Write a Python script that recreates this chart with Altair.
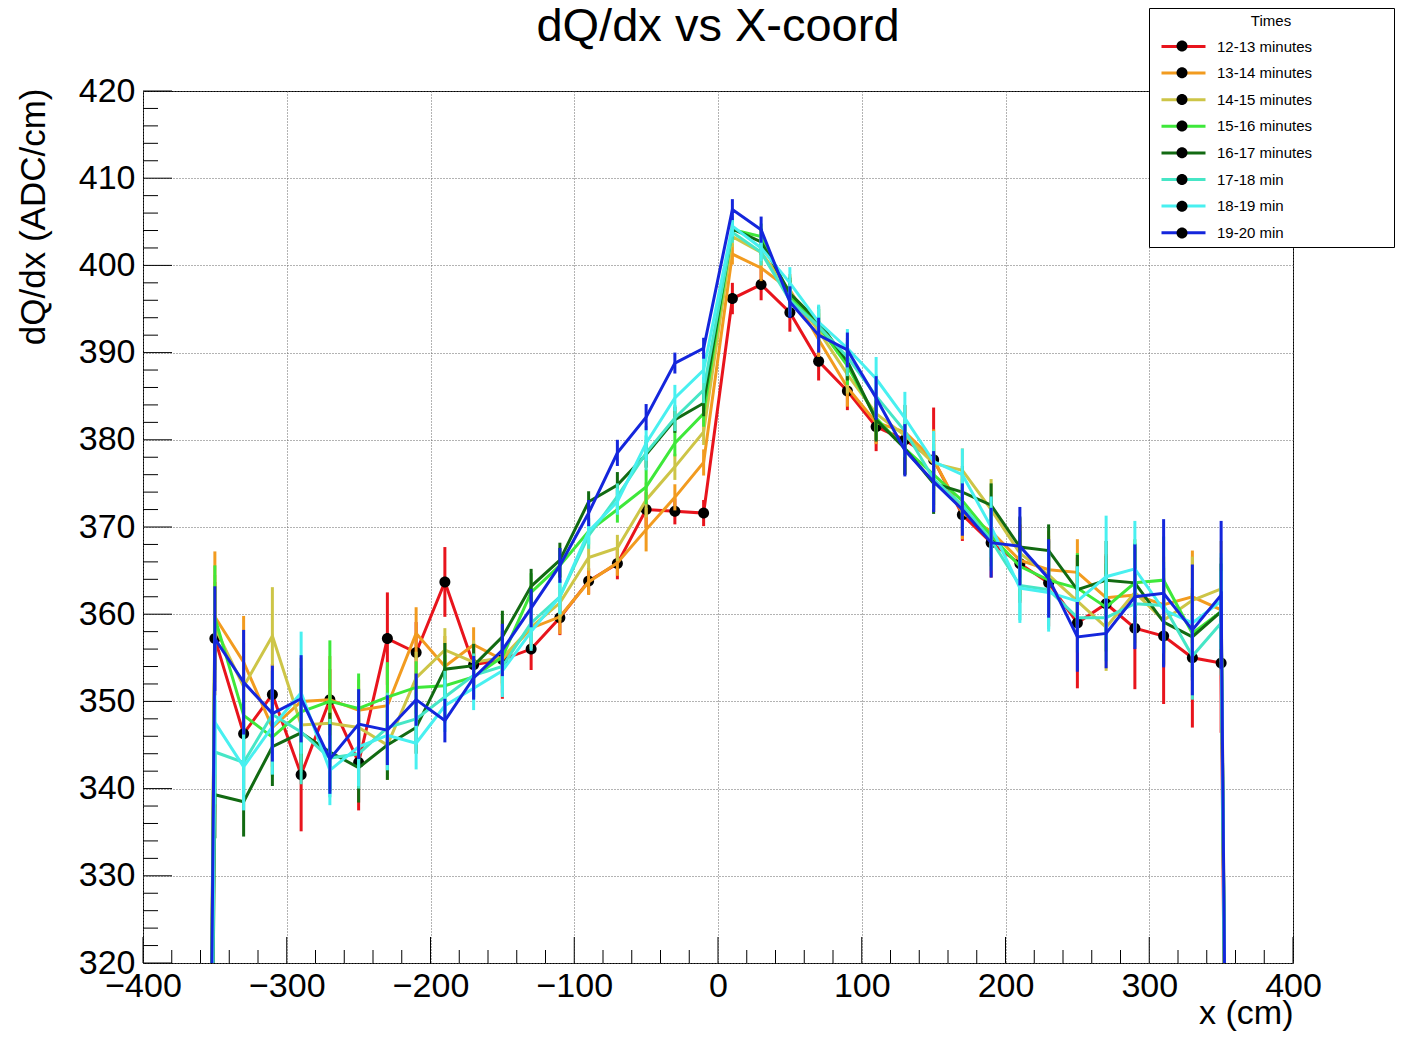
import altair as alt
import pandas as pd

# ---------------- data ----------------
x_pos = [-350, -330, -310, -290, -270, -250, -230, -210, -190, -170, -150, -130,
         -110, -90, -70, -50, -30, -10, 10, 30, 50, 70, 90, 110,
         130, 150, 170, 190, 210, 230, 250, 270, 290, 310, 330, 350]
x_edge = [-370, 370]
y_edge = [0.0, 0.0]

names = ["12-13 minutes", "13-14 minutes", "14-15 minutes", "15-16 minutes",
         "16-17 minutes", "17-18 min", "18-19 min", "19-20 min"]
colors = ["#e8141c", "#f29b1f", "#cdc547", "#3ee83a", "#126a12", "#46e6c6", "#48f0f0", "#1426dc"]

y_1213 = [357.2, 346.3, 350.8, 341.6, 350.2, 343.0, 357.2, 355.6, 363.7, 354.2, 354.8, 356.0,
          359.6, 363.8, 365.8, 372.0, 371.8, 371.6, 396.2, 397.8, 394.6, 389.0, 385.6, 381.5,
          380.0, 377.7, 371.4, 368.2, 365.8, 363.6, 359.0, 361.2, 358.4, 357.5, 355.0, 354.4]
e_1213 = [6.5, 3.0, 3.5, 6.5, 3.5, 5.5, 5.3, 3.5, 4.0, 2.5, 4.5, 2.4,
          2.0, 1.5, 1.8, 2.0, 1.5, 1.5, 1.8, 1.8, 2.2, 2.2, 2.2, 2.8,
          4.0, 6.0, 3.0, 4.0, 4.5, 5.0, 7.5, 5.5, 7.0, 7.8, 8.0, 8.0]

y_1314 = [359.7, 354.5, 347.0, 350.0, 350.2, 349.0, 349.5, 357.8, 354.0, 356.5, 354.8, 358.4,
          359.7, 363.7, 365.9, 369.7, 373.4, 377.4, 401.3, 399.7, 397.2, 391.5, 386.0, 382.0,
          380.9, 377.7, 371.6, 369.5, 366.2, 365.1, 364.8, 361.9, 362.2, 361.1, 362.0, 360.5]
e_1314 = [7.5, 5.3, 4.5, 5.0, 5.0, 3.5, 4.5, 3.0, 3.5, 2.0, 3.0, 2.2,
          2.0, 1.5, 1.5, 2.5, 1.5, 1.5, 1.2, 1.5, 1.8, 2.0, 2.2, 2.5,
          3.0, 3.5, 3.0, 3.5, 4.0, 4.5, 3.8, 5.0, 5.5, 5.5, 5.3, 6.0]

y_1415 = [358.5, 351.7, 357.5, 347.3, 347.5, 347.0, 345.0, 352.7, 355.9, 354.5, 355.0, 358.5,
          361.3, 366.5, 367.6, 373.1, 376.9, 380.9, 403.3, 401.5, 397.0, 392.5, 387.5, 383.0,
          380.5, 377.3, 376.5, 372.0, 367.0, 364.5, 361.5, 358.5, 362.5, 359.3, 361.6, 362.9]
e_1415 = [6.0, 5.0, 5.6, 4.5, 4.0, 4.5, 4.0, 3.0, 2.5, 2.5, 3.0, 2.5,
          2.0, 1.5, 1.5, 2.0, 1.5, 1.5, 1.2, 1.5, 1.8, 2.0, 2.2, 2.5,
          3.0, 3.5, 2.5, 3.5, 4.0, 4.5, 4.0, 5.0, 5.0, 5.0, 5.0, 5.5]

y_1516 = [359.6, 348.4, 345.9, 348.8, 350.0, 349.2, 350.5, 351.6, 351.8, 352.8, 355.1, 362.5,
          365.6, 369.5, 372.0, 374.6, 379.6, 383.0, 404.1, 403.3, 396.5, 393.0, 388.5, 382.5,
          379.0, 376.0, 373.0, 369.0, 365.5, 363.9, 363.0, 360.8, 363.6, 363.9, 357.8, 360.3]
e_1516 = [6.0, 4.0, 4.5, 5.0, 7.0, 4.0, 4.0, 3.0, 3.5, 2.5, 3.0, 2.2,
          2.0, 1.5, 1.5, 2.0, 1.5, 1.5, 1.2, 1.5, 1.8, 2.0, 2.2, 2.5,
          3.0, 3.5, 3.0, 3.5, 4.0, 4.5, 4.0, 5.0, 5.0, 5.0, 5.0, 5.5]

y_1617 = [339.3, 338.5, 344.8, 346.4, 344.2, 342.4, 345.0, 347.0, 353.7, 354.1, 357.4, 363.2,
          366.2, 372.9, 374.8, 378.3, 382.3, 384.2, 404.2, 402.7, 396.8, 393.5, 389.0, 382.3,
          379.0, 375.0, 374.0, 372.5, 367.7, 367.3, 362.8, 363.9, 363.6, 359.1, 357.4, 360.3]
e_1617 = [5.0, 4.0, 4.5, 4.5, 4.5, 4.0, 4.0, 3.0, 3.0, 2.5, 3.0, 2.0,
          2.0, 1.2, 1.5, 1.5, 1.5, 1.5, 1.2, 1.5, 1.8, 1.8, 2.2, 2.5,
          3.0, 3.5, 3.0, 2.5, 3.5, 3.0, 4.0, 4.5, 4.5, 5.0, 5.0, 5.5]

y_1718 = [344.2, 343.0, 348.5, 346.5, 343.5, 344.0, 347.0, 348.0, 350.5, 353.0, 354.0, 359.0,
          362.0, 369.0, 373.5, 378.5, 382.5, 385.7, 403.8, 401.5, 396.0, 393.0, 389.5, 385.0,
          381.0, 375.5, 372.5, 368.5, 363.3, 362.8, 359.6, 359.6, 361.2, 361.0, 355.2, 359.0]
e_1718 = [6.0, 4.5, 5.0, 6.0, 4.5, 4.0, 4.0, 3.0, 3.0, 2.5, 3.0, 2.2,
          2.0, 1.5, 1.5, 2.0, 1.5, 1.5, 1.2, 1.5, 1.8, 2.0, 2.2, 2.5,
          3.0, 3.5, 3.0, 3.5, 4.0, 4.5, 4.0, 5.0, 5.0, 5.0, 5.0, 6.0]

y_1819 = [347.6, 342.5, 347.1, 351.0, 342.1, 344.8, 346.1, 345.2, 349.5, 351.5, 353.5, 358.0,
          362.0, 369.5, 372.9, 379.6, 384.8, 388.0, 404.5, 402.0, 398.0, 393.5, 390.5, 387.0,
          382.5, 377.5, 376.0, 370.0, 363.0, 362.5, 361.5, 364.3, 365.2, 360.5, 359.0, 361.5]
e_1819 = [6.0, 5.0, 5.5, 7.0, 4.0, 4.5, 4.0, 3.0, 3.0, 2.5, 3.0, 2.2,
          2.0, 1.5, 1.5, 2.0, 1.5, 1.5, 1.2, 1.5, 1.8, 2.0, 2.2, 2.5,
          3.0, 3.5, 3.0, 3.5, 4.0, 4.5, 4.0, 7.0, 5.5, 5.0, 5.0, 5.5]

y_1920 = [357.2, 352.2, 348.6, 350.3, 343.4, 347.4, 346.7, 350.2, 347.8, 352.7, 355.9, 360.7,
          365.6, 371.6, 378.5, 382.6, 388.8, 390.5, 406.4, 404.1, 395.8, 392.0, 390.3, 384.8,
          378.8, 375.2, 372.0, 368.2, 367.8, 364.1, 357.4, 357.8, 362.0, 362.4, 358.2, 362.2]
e_1920 = [6.0, 6.0, 5.5, 5.0, 4.0, 4.0, 4.0, 3.0, 2.5, 2.5, 3.0, 2.2,
          2.0, 1.5, 1.5, 1.5, 1.2, 1.2, 1.2, 1.5, 1.8, 2.0, 2.0, 2.5,
          3.0, 3.5, 3.0, 4.0, 4.5, 4.5, 4.0, 4.0, 6.0, 8.5, 7.5, 8.5]

series_y = [y_1213, y_1314, y_1415, y_1516, y_1617, y_1718, y_1819, y_1920]
series_e = [e_1213, e_1314, e_1415, e_1516, e_1617, e_1718, e_1819, e_1920]

x_major = [-400, -300, -200, -100, 0, 100, 200, 300, 400]
x_minor = [v for v in range(-380, 400, 20) if v % 100 != 0]
y_major = [320, 330, 340, 350, 360, 370, 380, 390, 400, 410, 420]
y_minor = [v for v in range(322, 420, 2) if v % 10 != 0]

# ---------------- tables ----------------
pts_rows, line_rows = [], []
for name, ys, es in zip(names, series_y, series_e):
    for xv, yv, ev in zip(x_pos, ys, es):
        pts_rows.append({"series": name, "x": xv, "y": yv, "lo": yv - ev, "hi": yv + ev})
        line_rows.append({"series": name, "x": xv, "y": yv})
    for xv, yv in zip(x_edge, y_edge):
        line_rows.append({"series": name, "x": xv, "y": yv})
pts = pd.DataFrame(pts_rows)
lines = pd.DataFrame(line_rows)

W, H = 1150, 872
FONT = "Liberation Sans"
LINE_PATH = "M-2,0L2,0"
DOT_PATH = "M0.5,0A0.5,0.5,0,1,1,-0.5,0A0.5,0.5,0,1,1,0.5,0Z"
PADDED = "datum.label + '" + "\u00a0" * 18 + "\u200b'"

xscale = alt.Scale(domain=[-400, 400], nice=False, zero=False)
yscale = alt.Scale(domain=[320, 420], nice=False, zero=False)
xaxis = alt.Axis(values=x_major, ticks=False, domain=False, grid=True, gridDash=[1, 2],
                 gridColor="#666", gridWidth=1, labelFont=FONT, labelFontSize=34,
                 labelColor="black", labelPadding=6, labelFlush=False, labelOverlap=False,
                 format="d", title="x (cm)", titleFont=FONT, titleFontSize=34,
                 titleFontWeight="normal", titleColor="black", titleX=W, titleY=50,
                 titleAlign="right", titleBaseline="middle")
yaxis = alt.Axis(values=y_major, ticks=False, domain=False, grid=True, gridDash=[1, 2],
                 gridColor="#666", gridWidth=1, labelFont=FONT, labelFontSize=34,
                 labelColor="black", labelPadding=8, labelFlush=False, labelOverlap=False,
                 format="d", title="dQ/dx (ADC/cm)", titleFont=FONT, titleFontSize=35,
                 titleFontWeight="normal", titleColor="black", titleAngle=270,
                 titleX=-110, titleY=-3, titleAlign="right", titleBaseline="middle")

X = alt.X("x:Q", scale=xscale, axis=xaxis)
Y = alt.Y("y:Q", scale=yscale, axis=yaxis)

common_legend = dict(title="Times", orient="none", legendX=1006,
                     symbolSize=484, symbolOffset=16, labelOffset=21,
                     labelFont=FONT, labelFontSize=15, labelLimit=400, labelExpr=PADDED,
                     titleFont=FONT, titleFontSize=15, titleFontWeight="normal",
                     titleAnchor="middle", padding=6)
color_legend = alt.Legend(symbolType=LINE_PATH, symbolStrokeWidth=3, labelColor="black",
                          titleColor="black", fillColor="white", strokeColor="black",
                          zindex=0, legendY=-83, rowPadding=5.6, **common_legend)
shape_legend = alt.Legend(symbolFillColor="black", symbolStrokeWidth=0,
                          symbolOpacity=1, labelOpacity=0, titleOpacity=0, zindex=1,
                          legendY=-82, rowPadding=7.7, **common_legend)

COLOR = alt.Color("series:N", scale=alt.Scale(domain=names, range=colors), legend=color_legend)

layers = []
for i, name in enumerate(names):
    flt = alt.datum.series == name
    err = alt.Chart(pts).transform_filter(flt).mark_rule(strokeWidth=3, clip=True).encode(
        x=X, y=alt.Y("lo:Q", scale=yscale, axis=yaxis), y2="hi:Q", color=COLOR)
    ln = alt.Chart(lines).transform_filter(flt).mark_line(strokeWidth=3, clip=True).encode(
        x=X, y=Y, color=COLOR, order="x:Q")
    layers += [err, ln]
    if i == 0:
        mk = alt.Chart(pts).mark_point(filled=True, clip=True, opacity=1).encode(
            x=X, y=Y,
            shape=alt.Shape("series:N", scale=alt.Scale(range=[DOT_PATH] * 8), legend=shape_legend),
            color=alt.value("black"),
            size=alt.value(484),
            opacity=alt.condition(alt.datum.series == names[0], alt.value(1), alt.value(0)))
        layers.append(mk)

tx_major = alt.Chart(pd.DataFrame({"x": x_major})).mark_rule(color="black", strokeWidth=1).encode(
    x=X, y=alt.value(H), y2=alt.value(H - 26))
tx_minor = alt.Chart(pd.DataFrame({"x": x_minor})).mark_rule(color="black", strokeWidth=1).encode(
    x=X, y=alt.value(H), y2=alt.value(H - 13))
ty_major = alt.Chart(pd.DataFrame({"y": y_major})).mark_rule(color="black", strokeWidth=1).encode(
    y=Y, x=alt.value(0), x2=alt.value(29))
ty_minor = alt.Chart(pd.DataFrame({"y": y_minor})).mark_rule(color="black", strokeWidth=1).encode(
    y=Y, x=alt.value(0), x2=alt.value(15))

chart = alt.layer(tx_major, tx_minor, ty_major, ty_minor, *layers).properties(
    width=W, height=H,
    title=alt.TitleParams("dQ/dx vs X-coord", font=FONT, fontSize=47, fontWeight="normal",
                          color="black", anchor="middle", frame="group", offset=18, dy=61),
    autosize=alt.AutoSizeParams(type="none"),
    padding={"left": 135, "top": 83, "right": 109, "bottom": 68},
    background="white",
).configure_view(stroke="black", strokeWidth=1)

chart.save("out.html", embed_options={"renderer": "svg", "actions": False})
